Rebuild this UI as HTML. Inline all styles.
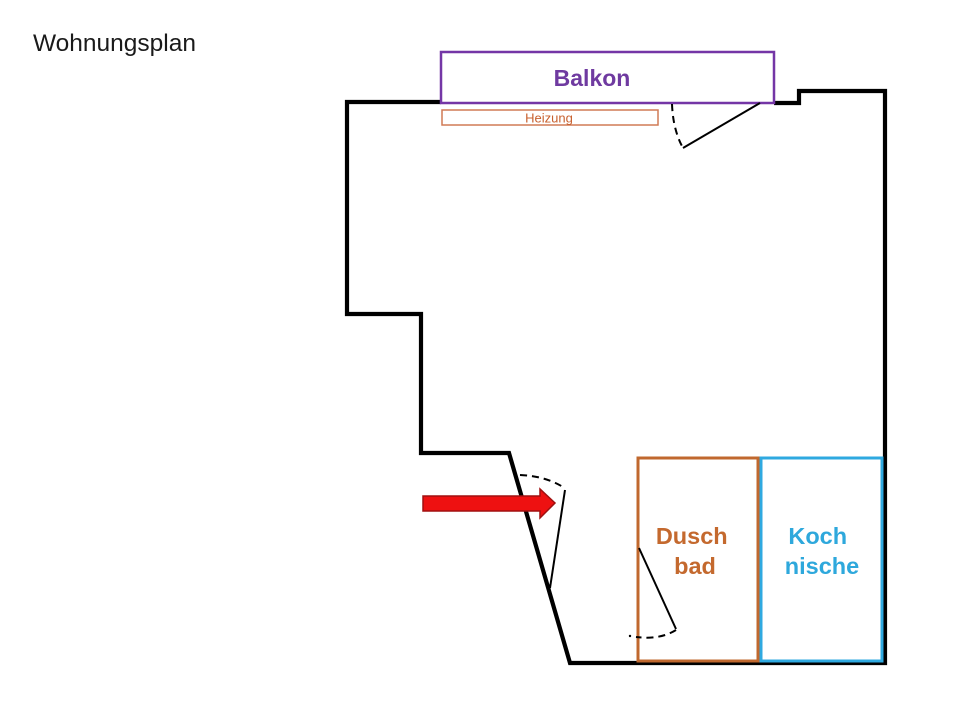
<!DOCTYPE html>
<html>
<head>
<meta charset="utf-8">
<style>
html,body{margin:0;padding:0;background:#fff;}
body{width:960px;height:704px;overflow:hidden;}
svg{display:block;}
</style>
</head>
<body>
<svg width="960" height="704" viewBox="0 0 960 704" xmlns="http://www.w3.org/2000/svg">
  <text x="33" y="51" font-family="Liberation Sans, sans-serif" font-size="24.5" fill="#1a1a1a">Wohnungsplan</text>

  <!-- walls -->
  <polyline points="441,102 347,102 347,314 421,314 421,453 509,453 570,663 885,663 885,91 799,91 799,103 774,103"
    fill="none" stroke="#000" stroke-width="4.2" stroke-linejoin="miter"/>

  <!-- Balkon -->
  <rect x="441" y="52" width="333" height="51" fill="#fff" stroke="#7436a6" stroke-width="2.5"/>
  <text x="592" y="86" text-anchor="middle" font-family="Liberation Sans, sans-serif" font-weight="bold" font-size="23" fill="#6f3aa0">Balkon</text>

  <!-- Heizung -->
  <rect x="442" y="110" width="216" height="15" fill="none" stroke="#d07a55" stroke-width="1.5"/>
  <text x="549" y="122.5" text-anchor="middle" font-family="Liberation Sans, sans-serif" font-size="13" fill="#c8602e">Heizung</text>

  <!-- top door -->
  <line x1="760" y1="103" x2="683" y2="148" stroke="#000" stroke-width="2"/>
  <path d="M672,104 Q673,130 683,148" fill="none" stroke="#000" stroke-width="2" stroke-dasharray="7,5"/>

  <!-- entrance door -->
  <line x1="565" y1="490" x2="550" y2="588" stroke="#000" stroke-width="2"/>
  <path d="M520,475 Q545,476 563,487" fill="none" stroke="#000" stroke-width="2" stroke-dasharray="7,5"/>

  <!-- red arrow -->
  <polygon points="423,496 540,496 540,489 555,503 540,518 540,511 423,511" fill="#ee1111" stroke="#a01010" stroke-width="1.5"/>

  <!-- Dusch bad -->
  <rect x="638" y="458" width="120" height="203" fill="none" stroke="#c0682e" stroke-width="3"/>
  <text font-family="Liberation Sans, sans-serif" font-weight="bold" font-size="23.5" fill="#c4692e" text-anchor="middle">
    <tspan x="695" y="544">Dusch</tspan>
    <tspan x="695" y="574">bad</tspan>
  </text>
  <line x1="639" y1="548" x2="676" y2="629" stroke="#000" stroke-width="2"/>
  <path d="M676,630 Q660,640 636,637" fill="none" stroke="#000" stroke-width="2" stroke-dasharray="7,5"/>
  <circle cx="630" cy="636" r="1.2" fill="#000"/>

  <!-- Koch nische -->
  <rect x="761" y="458" width="121" height="203" fill="none" stroke="#2fa9e0" stroke-width="3"/>
  <text font-family="Liberation Sans, sans-serif" font-weight="bold" font-size="23.5" fill="#2ea8dc" text-anchor="middle">
    <tspan x="821" y="544">Koch</tspan>
    <tspan x="822" y="574">nische</tspan>
  </text>
</svg>
</body>
</html>
